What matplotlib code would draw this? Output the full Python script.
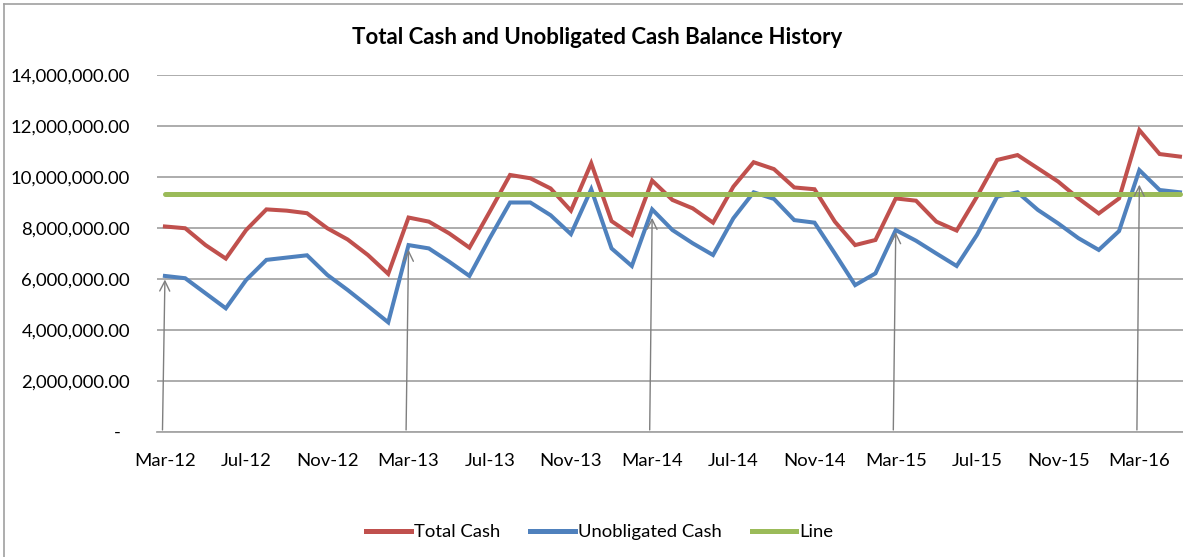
import matplotlib
matplotlib.use("Agg")
import matplotlib.pyplot as plt
from matplotlib.ticker import FuncFormatter, FixedLocator
from matplotlib.lines import Line2D

plt.rcParams['font.family'] = ['Lato', 'DejaVu Sans']

# Monthly data, Mar-2012 .. May-2016
months = ["Mar-12", "Apr-12", "May-12", "Jun-12", "Jul-12", "Aug-12", "Sep-12", "Oct-12", "Nov-12", "Dec-12",
          "Jan-13", "Feb-13", "Mar-13", "Apr-13", "May-13", "Jun-13", "Jul-13", "Aug-13", "Sep-13", "Oct-13",
          "Nov-13", "Dec-13", "Jan-14", "Feb-14", "Mar-14", "Apr-14", "May-14", "Jun-14", "Jul-14", "Aug-14",
          "Sep-14", "Oct-14", "Nov-14", "Dec-14", "Jan-15", "Feb-15", "Mar-15", "Apr-15", "May-15", "Jun-15",
          "Jul-15", "Aug-15", "Sep-15", "Oct-15", "Nov-15", "Dec-15", "Jan-16", "Feb-16", "Mar-16", "Apr-16",
          "May-16"]

total_cash = [8.06, 7.99, 7.33, 6.80, 7.92, 8.73, 8.68, 8.58, 7.99, 7.55,
              6.94, 6.20, 8.41, 8.25, 7.79, 7.23, 8.64, 10.08, 9.95, 9.55,
              8.68, 10.54, 8.27, 7.73, 9.86, 9.10, 8.77, 8.21, 9.62, 10.58,
              10.31, 9.59, 9.52, 8.25, 7.33, 7.53, 9.16, 9.07, 8.25, 7.90,
              9.23, 10.67, 10.86, 10.34, 9.82, 9.16, 8.57, 9.16, 11.84, 10.90,
              10.80]
total_cash = [v * 1_000_000 for v in total_cash]

unobligated_cash = [6.12, 6.03, 5.44, 4.85, 5.96, 6.75, 6.84, 6.93, 6.16, 5.57,
                    4.94, 4.30, 7.33, 7.20, 6.68, 6.12, 7.60, 9.00, 9.00, 8.50,
                    7.76, 9.52, 7.20, 6.51, 8.73, 7.92, 7.40, 6.94, 8.38, 9.40,
                    9.14, 8.31, 8.21, 7.00, 5.76, 6.22, 7.92, 7.50, 7.00, 6.51,
                    7.73, 9.23, 9.40, 8.71, 8.18, 7.60, 7.14, 7.88, 10.27, 9.49,
                    9.40]
unobligated_cash = [v * 1_000_000 for v in unobligated_cash]

line_level = 9_330_000

x_tick_labels = ["Mar-12", "Jul-12", "Nov-12", "Mar-13", "Jul-13", "Nov-13", "Mar-14",
                 "Jul-14", "Nov-14", "Mar-15", "Jul-15", "Nov-15", "Mar-16"]
y_ticks = [0, 2_000_000, 4_000_000, 6_000_000, 8_000_000, 10_000_000, 12_000_000, 14_000_000]

# hand-drawn arrows: (month label, tip value)
arrow_months = ["Mar-12", "Mar-13", "Mar-14", "Mar-15", "Mar-16"]
arrow_tips = [5_980_000, 7_150_000, 8_400_000, 7_840_000, 9_700_000]

W, H = 1183, 557
fig = plt.figure(figsize=(W / 100, H / 100), dpi=100)
fig.patch.set_facecolor('white')

ax = fig.add_axes([157 / W, 1 - 432 / H, (1183 - 157) / W, (432 - 75) / H])
x = list(range(len(months)))

red = '#C0504D'
blue = '#4F81BD'
green = '#9BBB59'

ax.plot(x, total_cash, color=red, lw=2.9, solid_joinstyle='miter', label='Total Cash', zorder=3)
ax.plot(x, unobligated_cash, color=blue, lw=2.9, solid_joinstyle='miter', label='Unobligated Cash', zorder=3)
ax.plot(x, [line_level] * len(x), color=green, lw=3.6, label='Line', zorder=4, solid_capstyle='round')

for m, tip in zip(arrow_months, arrow_tips):
    i = months.index(m)
    ax.annotate('', xy=(i, tip), xytext=(i - 0.12, 80_000),
                arrowprops=dict(arrowstyle='->', color='#7F7F7F', lw=1.0,
                                mutation_scale=18, shrinkA=0, shrinkB=0), zorder=5)

ax.set_xlim(-0.39, 50.15)
ax.set_ylim(0, 14_000_000)
ax.yaxis.set_major_locator(FixedLocator(y_ticks))
ax.yaxis.set_major_formatter(FuncFormatter(lambda v, p: '-  ' if v == 0 else f'{v:,.2f}'))
ax.set_xticks([months.index(l) for l in x_tick_labels])
ax.set_xticklabels(x_tick_labels)

ax.grid(axis='y', color='#A6A6A6', lw=1.3, zorder=1)
ax.set_axisbelow(True)
for s in ['top', 'right', 'left']:
    ax.spines[s].set_visible(False)
ax.spines['bottom'].set_color('#A6A6A6')
ax.spines['bottom'].set_linewidth(1.3)
ax.tick_params(axis='both', length=0, labelsize=13.3, colors='black')
ax.tick_params(axis='x', pad=15)
ax.tick_params(axis='y', pad=19.5)

fig.text(597 / W, 1 - 37 / H, 'Total Cash and Unobligated Cash Balance History',
         ha='center', va='center', fontsize=16, fontweight='bold')

handles = [Line2D([], [], color=red, lw=3.6), Line2D([], [], color=blue, lw=3.6),
           Line2D([], [], color=green, lw=3.6)]
fig.legend(handles, ['Total Cash', 'Unobligated Cash', 'Line'], loc='center',
           bbox_to_anchor=(600 / W, 1 - 532 / H), ncol=3, frameon=False,
           fontsize=13.3, handlelength=2.4, handletextpad=0.2, columnspacing=1.6)

# chart border (left and top)
fig.add_artist(Line2D([4 / W, 4 / W], [0, 1 - 4 / H], color='#A0A0A0', lw=1.2))
fig.add_artist(Line2D([4 / W, 1], [1 - 4 / H, 1 - 4 / H], color='#A0A0A0', lw=1.2))

fig.savefig('out.png', dpi=100)
